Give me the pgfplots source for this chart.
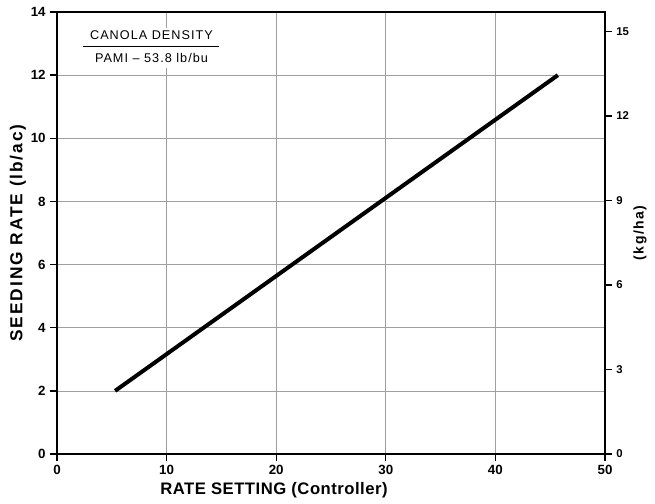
\documentclass[border=0pt]{standalone}
\usepackage{fontspec}
\setmainfont{Liberation Sans}
\newfontfamily\ylab[LetterSpace=11]{Liberation Sans}
\newfontfamily\xlab[LetterSpace=3]{Liberation Sans}
\newfontfamily\rlab[LetterSpace=10]{Liberation Sans}
\newfontfamily\note[LetterSpace=8]{Liberation Sans}
\usepackage{pgfplots}
\pgfplotsset{compat=1.18}
\begin{document}
\begin{tikzpicture}
\path[use as bounding box] (-42.75pt,-36.75pt) rectangle (448.5pt,340.5pt);
\begin{axis}[
  at={(0pt,0pt)}, anchor=south west,
  scale only axis,
  width=411pt, height=331.5pt,
  xmin=0, xmax=50, ymin=0, ymax=14,
  xtick={0,10,...,50}, ytick={0,2,...,14},
  grid=major,
  major grid style={gray!75, line width=0.5pt},
  axis line style={line width=1.5pt},
  tick style={black, line width=1pt},
  tick align=outside,
  major tick length=5pt,
  xtick pos=bottom, ytick pos=left,
  /pgf/number format/assume math mode=true,
  tick label style={font=\fontsize{10}{11}\selectfont\bfseries},
  xlabel={RATE SETTING (Controller)},
  ylabel={SEEDING RATE (lb/ac)},
  xlabel style={font=\xlab\fontsize{12.5}{14}\selectfont\bfseries,
    at={(axis description cs:0.396,-0.0814)}, anchor=center},
  ylabel style={font=\ylab\fontsize{13}{14}\selectfont\bfseries,
    at={(axis description cs:-0.0712,0.5)}, anchor=center},
]
\addplot[black, line width=3pt] coordinates {(5.3,2.0) (45.7,12.0)};
\node[anchor=center, font=\note\fontsize{9.5}{11}\selectfont, fill=white, inner sep=1pt] at (axis cs:8.62,12.86)
  {\begin{tabular}{@{\hspace{5pt}}c@{\hspace{5pt}}}CANOLA DENSITY\\[2pt]\hline\rule{0pt}{12pt}PAMI – 53.8 lb/bu\end{tabular}};
\end{axis}
\begin{axis}[
  at={(0pt,0pt)}, anchor=south west,
  scale only axis,
  width=411pt, height=331.5pt,
  xmin=0, xmax=50, ymin=0, ymax=15.6919,
  hide x axis,
  axis y line*=right,
  axis line style={line width=1.5pt},
  ytick={0,3,...,15},
  tick style={black, line width=1pt},
  tick align=outside,
  major tick length=5pt,
  /pgf/number format/assume math mode=true,
  tick label style={font=\fontsize{8.5}{10}\selectfont\bfseries},
  ylabel={(kg/ha)},
  ylabel style={font=\rlab\fontsize{10.5}{12}\selectfont\bfseries,
    at={(axis description cs:1.064,0.5)}, anchor=center},
]
\end{axis}
\end{tikzpicture}
\end{document}
